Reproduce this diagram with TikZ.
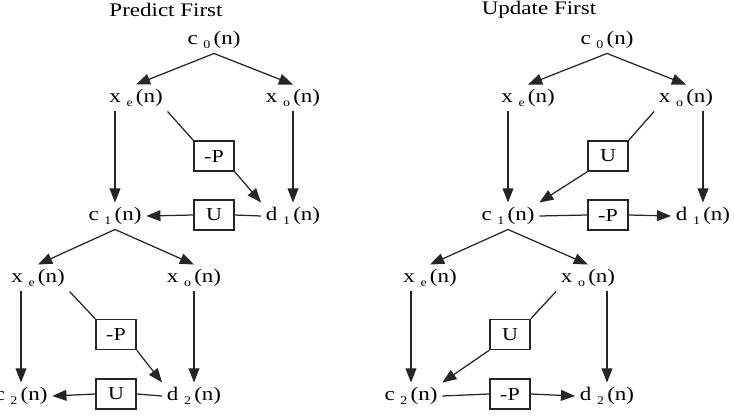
\documentclass[tikz,border=0pt]{standalone}
\usepackage{fontspec}
\setmainfont[FakeStretch=1.2]{Liberation Serif}
\usetikzlibrary{arrows.meta, positioning, calc}
\newcommand{\sgn}[2]{#1\ \raisebox{-0.45ex}{\scriptsize #2}\,(n)}
\tikzset{
  lbl/.style={inner sep=2.5pt, font=\fontsize{11.5}{13}\selectfont},
  ttl/.style={inner sep=0pt, font=\fontsize{11.5}{13}\selectfont},
  opbox/.style={draw, line width=0.9pt, minimum width=24pt, minimum height=18pt,
                inner sep=0pt, font=\fontsize{11}{12}\selectfont},
  sig/.style={-{Triangle[length=8.5pt,width=6.5pt]}},
}

\begin{document}
\begin{tikzpicture}[x=0.6pt, y=-0.6pt, line width=0.75pt, draw=black!85]
  \useasboundingbox (0,0) rectangle (734,416);
  % predict first
  \node[ttl] at (166,10) {Predict First};
  \node[lbl] (pc0) at (214,40) {\sgn{c}{0}};
  \node[lbl] (pxe) at (136,98) {\sgn{x}{e}};
  \node[lbl] (pxo) at (293,98) {\sgn{x}{o}};
  \node[opbox] (pp1) at (214,156) {-P};
  \node[lbl] (pc1) at (115,216) {\sgn{c}{1}};
  \node[lbl] (pd1) at (293,216) {\sgn{d}{1}};
  \node[opbox] (pu1) at (214,215) {U};
  \node[lbl] (pxe2) at (38,278) {\sgn{x}{e}};
  \node[lbl] (pxo2) at (194,278) {\sgn{x}{o}};
  \node[opbox] (pp2) at (116,334.5) {-P};
  \node[lbl] (pc2) at (21,396) {\sgn{c}{2}};
  \node[lbl] (pd2) at (194,396) {\sgn{d}{2}};
  \node[opbox] (pu2) at (116,394) {U};
  \draw[sig] (pc0.south) -- (pxe.north);
  \draw[sig] (pc0.south) -- (pxo.north);
  \draw[sig] (pxe.south -| pc1) -- (pc1.north);
  \draw[sig] (pxo.south) -- (pd1.north);
  \draw (pxe.south east) -- (pp1.north west);
  \draw[sig] (pp1.south east) -- (pd1.north west);
  \draw (pd1.west) -- (pu1.east);
  \draw[sig] (pu1.west) -- (pc1.east);
  \draw[sig] (pc1.south) -- (pxe2.north);
  \draw[sig] (pc1.south) -- (pxo2.north);
  \draw[sig] (pxe2.south -| pc2) -- (pc2.north);
  \draw[sig] (pxo2.south) -- (pd2.north);
  \draw (pxe2.south east) -- (pp2.north west);
  \draw[sig] (pp2.south east) -- (pd2.north west);
  \draw (pd2.west) -- (pu2.east);
  \draw[sig] (pu2.west) -- (pc2.east);
  % update first
  \node[ttl] at (539,10) {Update First};
  \node[lbl] (uc0) at (607,40) {\sgn{c}{0}};
  \node[lbl] (uxe) at (528,98) {\sgn{x}{e}};
  \node[lbl] (uxo) at (686,98) {\sgn{x}{o}};
  \node[opbox] (uu1) at (608,156) {U};
  \node[lbl] (uc1) at (508,216) {\sgn{c}{1}};
  \node[lbl] (ud1) at (703,216) {\sgn{d}{1}};
  \node[opbox] (up1) at (608,215) {-P};
  \node[lbl] (uxe2) at (430,278) {\sgn{x}{e}};
  \node[lbl] (uxo2) at (588,278) {\sgn{x}{o}};
  \node[opbox] (uu2) at (510,334.5) {U};
  \node[lbl] (uc2) at (411,396) {\sgn{c}{2}};
  \node[lbl] (ud2) at (607,396) {\sgn{d}{2}};
  \node[opbox] (up2) at (510,394) {-P};
  \draw[sig] (uc0.south) -- (uxe.north);
  \draw[sig] (uc0.south) -- (uxo.north);
  \draw[sig] (uxe.south -| uc1) -- (uc1.north);
  \draw[sig] (uxo.south -| ud1) -- (ud1.north);
  \draw (uxo.south west) -- (uu1.north east);
  \draw[sig] (uu1.south west) -- (uc1.north east);
  \draw (uc1.east) -- (up1.west);
  \draw[sig] (up1.east) -- (ud1.west);
  \draw[sig] (uc1.south) -- (uxe2.north);
  \draw[sig] (uc1.south) -- (uxo2.north);
  \draw[sig] (uxe2.south -| uc2) -- (uc2.north);
  \draw[sig] (uxo2.south -| ud2) -- (ud2.north);
  \draw (uxo2.south west) -- (uu2.north east);
  \draw[sig] (uu2.south west) -- (uc2.north east);
  \draw (uc2.east) -- (up2.west);
  \draw[sig] (up2.east) -- (ud2.west);
\end{tikzpicture}
\end{document}
